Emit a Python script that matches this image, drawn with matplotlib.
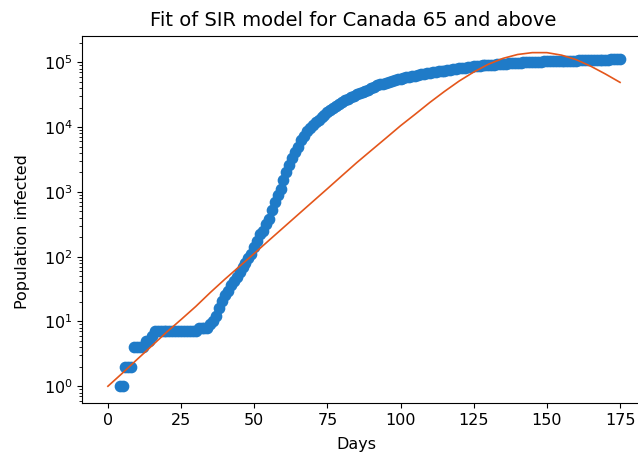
import numpy as np
import matplotlib
matplotlib.use("Agg")
import matplotlib.pyplot as plt

# observed cases (days 4..175)
days = list(range(4, 176))
infected = [
    1, 1, 2, 2, 2, 4, 4, 4, 4, 5, 5, 6,                      # 4-15
    7, 7, 7, 7, 7, 7, 7, 7, 7, 7, 7, 7, 7, 7, 7,             # 16-30
    8, 8, 8, 8, 9, 10, 12, 16, 21, 26,                        # 31-40
    30, 36, 42, 48, 58, 70, 80, 95, 110, 140,                 # 41-50
    175, 220, 250, 320, 380, 520, 700, 900, 1100, 1500,       # 51-60
    2000, 2600, 3300, 4100, 5000, 6300, 7300, 8600, 9600, 10600,  # 61-70
    11800, 13000, 14300, 15600, 17000, 18400, 19800, 21300, 22800, 24300,  # 71-80
    26000, 27500, 29000, 30500, 32000, 33500, 35000, 36500, 38000, 40000,  # 81-90
    42000, 44000, 45500, 47000, 48500, 50000, 51500, 53000, 54500, 56000,  # 91-100
    57300, 58600, 59900, 61200, 62500, 63800, 65000, 66200, 67400, 68600,  # 101-110
    69800, 71000, 72200, 73400, 74600, 75800, 77000, 78200, 79400, 80600,  # 111-120
    81800, 83000, 84200, 85500, 87000,                                     # 121-125
    87800, 88600, 89400, 90200, 91000, 91700, 92400, 93100, 93800, 94500,  # 126-135
    95300, 96100, 96900, 97700, 98500,                                     # 136-140
    99000, 99500, 100000, 100500, 101000, 101500, 102000, 102500, 103000, 103500,  # 141-150
    103800, 104100, 104400, 104700, 105000, 105300, 105600, 105900, 106200, 106500,  # 151-160
    106800, 107100, 107400, 107700, 108000, 108400, 108800, 109200, 109600, 110000,  # 161-170
    110400, 110800, 111200, 111600, 112000,                                # 171-175
]

fit_days = list(range(0, 176, 5))
fit_infected = [
    1.0, 1.6, 2.6, 4.2, 6.8, 10.7, 17, 28, 45, 71,
    112, 178, 282, 447, 708, 1120, 1780, 2820, 4370, 6760,
    10500, 15800, 24000, 35500, 51300, 70800, 93300, 115000, 132000, 141000,
    141000, 129000, 110000, 87000, 66000, 49000,
]

fig = plt.figure(figsize=(6.38, 4.61), dpi=100)
ax = fig.add_axes([0.129, 0.126, 0.883, 0.796])

ax.scatter(days, infected, s=55, color='#1f7bc8', zorder=2)
ax.plot(fit_days, fit_infected, color='#e4561b', lw=1.2, zorder=3)
ax.set_yscale('log')
ax.set_xlim(-8.75, 183.75)
ax.tick_params(labelsize=11.5)

ax.set_title("Fit of SIR model for Canada 65 and above", fontsize=14, pad=7, x=0.48)
ax.set_xlabel("Days", fontsize=11.5)
ax.set_ylabel("Population infected", fontsize=11.5)
ax.xaxis.set_label_coords(0.486, -0.093)
ax.yaxis.set_label_coords(-0.093, 0.466)

fig.savefig("out.png", dpi=100)
